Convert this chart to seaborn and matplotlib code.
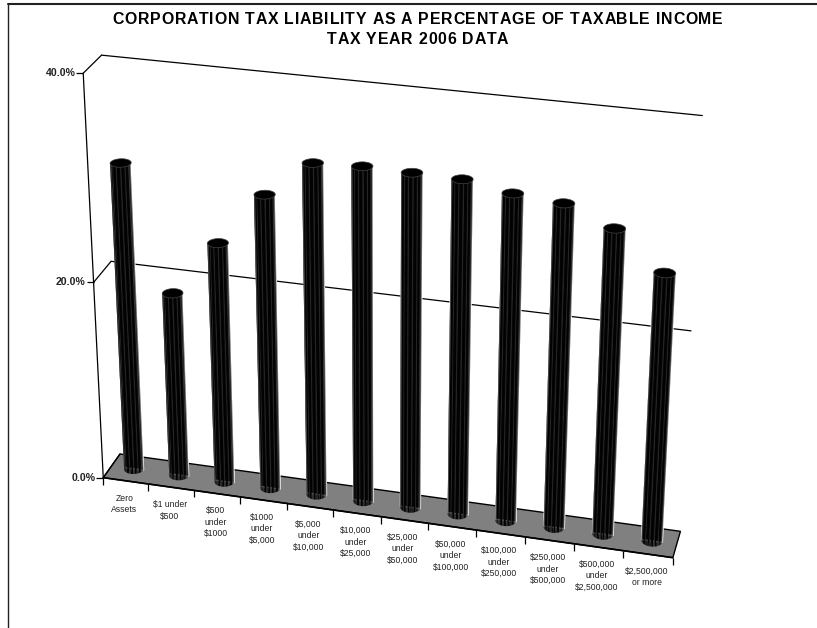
import numpy as np
import pandas as pd
import matplotlib
matplotlib.use("Agg")
import matplotlib.pyplot as plt
from matplotlib import font_manager as fm
from matplotlib.ft2font import LoadFlags
from matplotlib.patches import Polygon
from matplotlib.text import Text
from matplotlib.transforms import Transform, IdentityTransform
from matplotlib.collections import PolyCollection
import seaborn as sns

# ---- data ----
categories = ["Zero\nAssets", "$1 under\n$500", "$500\nunder\n$1000", "$1000\nunder\n$5,000",
              "$5,000\nunder\n$10,000", "$10,000\nunder\n$25,000", "$25,000\nunder\n$50,000",
              "$50,000\nunder\n$100,000", "$100,000\nunder\n$250,000", "$250,000\nunder\n$500,000",
              "$500,000\nunder\n$2,500,000", "$2,500,000\nor more"]
values = [30.9, 18.7, 24.2, 29.4, 32.9, 33.1, 33.0, 32.9, 32.1, 31.7, 29.9, 26.3]
y_ticks = [0, 20, 40]
y_tick_labels = ["0.0%", "20.0%", "40.0%"]
title_lines = ["CORPORATION TAX LIABILITY AS A PERCENTAGE OF TAXABLE INCOME", "TAX YEAR 2006 DATA"]

W, H = 817, 628
BAR_W = 0.42

# ---- camera: (category, depth, value) -> image pixel, calibrated on the chart box corners ----
L, R = -0.5, 11.5
calib = [((L,0,0),(103.7,477.5)), ((L,0,20),(93,283)), ((L,0,40),(83.5,72.7)),
         ((L,1,0),(120,454)), ((L,1,20),(111,261)), ((L,1,40),(101.5,55.5)),
         ((R,0,0),(672.7,557.7)), ((R,1,0),(680,531.7)), ((R,1,20),(692,330)), ((R,1,40),(702,116))]
A, b = [], []
for (c,d,v),(px,py) in calib:
    A.append([c,d,v,1,0,0,0,0,-px*c,-px*d,-px*v]); b.append(px)
    A.append([0,0,0,0,c,d,v,1,-py*c,-py*d,-py*v]); b.append(py)
P = np.append(np.linalg.lstsq(np.array(A,float), np.array(b,float), rcond=None)[0], 1).reshape(3,4)

def project(c, d, v):
    c, d, v = np.broadcast_arrays(np.asarray(c,float), np.asarray(d,float), np.asarray(v,float))
    X = np.stack([c, d, v, np.ones_like(c)], axis=-1) @ P.T
    return np.stack([X[...,0]/X[...,2], H - X[...,1]/X[...,2]], axis=-1)

class Plane(Transform):
    """(category, value) on the vertical plane at a fixed depth -> display."""
    input_dims = output_dims = 2
    is_affine = False
    def __init__(self, plane_d):
        super().__init__(); self.plane_d = plane_d
    def transform_non_affine(self, xy):
        xy = np.asarray(xy, float)
        return project(xy[:,0], self.plane_d, xy[:,1])

class Floor(Transform):
    """(category, depth) on the floor -> display."""
    input_dims = output_dims = 2
    is_affine = False
    def transform_non_affine(self, xy):
        xy = np.asarray(xy, float)
        return project(xy[:,0], xy[:,1], 0.0)

class SpacedText(Text):
    """A single real text whose letters are drawn with extra tracking, centred on its anchor."""
    tracking = 0.0
    def draw(self, renderer):
        s = self.get_text()
        fp = self.get_fontproperties()
        font = fm.get_font(fm.findfont(fp))
        font.set_size(fp.get_size_in_points(), self.get_figure().dpi)
        adv = [font.load_char(ord(ch), flags=LoadFlags.NO_HINTING).linearHoriAdvance/65536 for ch in s]
        total = sum(adv) + self.tracking*(len(s)-1)
        x0, y0 = self.get_transform().transform(self.get_position())
        x = x0 - total/2
        for ch, a in zip(s, adv):
            if ch != " ":
                t = Text(x, y0, ch, fontproperties=fp, color=self.get_color(), ha="left", va="baseline",
                         transform=IdentityTransform())
                t.set_figure(self.get_figure())
                t.draw(renderer)
            x += a + self.tracking

front, back, middle, floor = Plane(0.0), Plane(1.0), Plane(0.5), Floor()

# ---- figure ----
sns.set_theme(style="white")
plt.rcParams["font.family"] = ["Liberation Sans", "DejaVu Sans"]
fig = plt.figure(figsize=(W/100, H/100), dpi=100, facecolor="white")
ax = fig.add_axes([0, 0, 1, 1])
df = pd.DataFrame({"category": categories, "value": values})
sns.barplot(data=df, x="category", y="value", color="black", width=BAR_W, saturation=1, ax=ax, zorder=3)
ax.set_axis_off()

# outer frame
fig.add_artist(plt.Line2D([7.5/W, 7.5/W], [0, 1-3.5/H], color="#222222", lw=1.0))
fig.add_artist(plt.Line2D([7.5/W, 1], [1-3.5/H, 1-3.5/H], color="#222222", lw=1.5))

# floor
ax.add_patch(Polygon([(L,0),(R,0),(R,1),(L,1)], closed=True, transform=floor, facecolor="#808080",
                     edgecolor="black", lw=1.0, zorder=1, clip_on=False))
# gridlines on back wall + diagonal side links
for t in y_ticks[1:]:
    ax.plot([L, R], [t, t], color="black", lw=0.9, transform=back, zorder=1)
for t in y_ticks:
    a, b_ = project(L, 0, t), project(L, 1, t)
    ax.plot([a[0], b_[0]], [a[1], b_[1]], color="black", lw=0.9, transform=IdentityTransform(), zorder=2)
# value axis, ticks and labels
ax.plot([L, L], [y_ticks[0], y_ticks[-1]], color="black", lw=0.9, transform=front, zorder=2)
for t, lab in zip(y_ticks, y_tick_labels):
    ax.plot([L], [t], marker=0, ms=5, mew=0.9, color="black", transform=front, zorder=2)
    ax.annotate(lab, xy=(L, t), xycoords=front, xytext=(-5.6, 0), textcoords="offset points",
                ha="right", va="center", fontsize=7.6, fontweight="bold", color="#222222")
# category ticks and labels
ax.plot([L, R], [0, 0], color="black", lw=1.2, transform=front, zorder=2)
for c in np.arange(L, R + 0.5):
    ax.plot([c], [0], marker=3, ms=5.2, mew=0.9, color="black", transform=front, zorder=2)
for i, lab in enumerate(categories):
    ax.annotate(lab, xy=(i, 0), xycoords=front, xytext=(-1, -9.2), textcoords="offset points",
                ha="center", va="top", fontsize=6.2, linespacing=1.36, color="#222222")

# cylinders: geometry read back from the seaborn bars
N = 22
thetas = np.linspace(0, np.pi, N + 1)
for rect in list(ax.patches):
    if not hasattr(rect, "get_width") or rect.get_height() <= 0:
        continue
    c = rect.get_x() + rect.get_width()/2
    r = rect.get_width()/2
    v = rect.get_height()
    rect.set_transform(middle)
    polys, cols = [], []
    cs = c - r*np.cos(thetas)
    ds = 0.5 - 0.5*BAR_W*np.sin(thetas)
    for i in range(N):
        polys.append(np.vstack([project(cs[i], ds[i], 0), project(cs[i+1], ds[i+1], 0),
                                project(cs[i+1], ds[i+1], v), project(cs[i], ds[i], v)]))
        u = (i + 0.5)/N
        g = 0.0 + (0.14 if i % 3 == 1 else 0.01) + 0.45*max(0, (u-0.8)/0.2)**2 + 0.22*max(0, (0.15-u)/0.15)**2
        cols.append((g, g, g))
    ax.add_collection(PolyCollection(polys, facecolors=cols, edgecolors="none", antialiased=True,
                                     transform=IdentityTransform(), zorder=4), autolim=False)
    th = np.linspace(0, 2*np.pi, 61)
    top = project(c + r*np.cos(th), 0.5 + 0.5*BAR_W*np.sin(th), v)
    ax.add_patch(Polygon(top, closed=True, transform=IdentityTransform(), facecolor="black",
                         edgecolor="#444444", lw=0.5, zorder=5))

# title (tracked letters, as in the original)
for line, base_y in zip(title_lines, (24, 44)):
    st = SpacedText(417.7, H - base_y, line, transform=IdentityTransform(), fontsize=11.4,
                    fontweight="bold", color="black", ha="center", va="baseline")
    st.tracking = 0.76
    fig.add_artist(st)

fig.savefig("out.png", dpi=100, facecolor="white")
